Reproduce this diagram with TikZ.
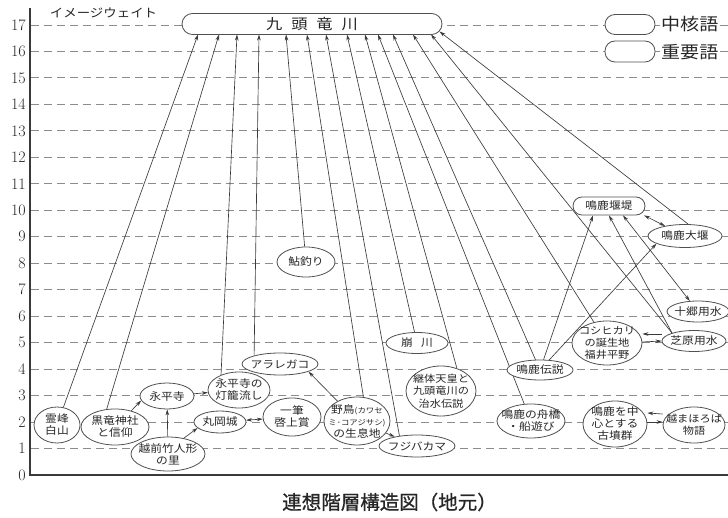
\documentclass[tikz,border=0pt]{standalone}
\usepackage{fontspec}
\newfontfamily\cjk[FakeStretch=1.12]{Noto Sans CJK JP}
\newfontfamily\cjkg[FakeBold=0.8]{Noto Sans CJK JP}
\usetikzlibrary{shapes.geometric,arrows.meta}
\pgfdeclarelayer{bg}
\pgfsetlayers{bg,main}
\definecolor{ln}{HTML}{3A3A3A}
\definecolor{gridc}{HTML}{8C8C8C}
\definecolor{bd}{HTML}{505050}
\definecolor{tx}{HTML}{262626}
\tikzset{
  el/.style={ellipse, draw=bd, line width=0.8pt, fill=white, inner sep=0pt},
  pill/.style={rectangle, rounded corners=#1, draw=bd, line width=0.8pt, fill=white, inner sep=0pt, align=center, text=tx},
  pill/.default=9pt,
  txt/.style={align=center, inner sep=0pt, text=tx},
  arr/.style={draw=ln, line width=0.65pt, -{Stealth[length=6pt,width=3.6pt]}},
  arrb/.style={draw=ln, line width=0.65pt, {Stealth[length=6pt,width=3.6pt]}-{Stealth[length=6pt,width=3.6pt]}},
  gridl/.style={draw=gridc, line width=0.9pt, dash pattern=on 8pt off 5pt},
  axisl/.style={draw=ln, line width=1.1pt},
  lbl/.style={text=tx, inner sep=1pt},
}
% name, x, y, w, h, text
\newcommand\mkel[7][]{%
  \node[el, minimum width=#5pt, minimum height=#6pt] (#2) at (#3,#4) {};
  \node[txt,#1] (#2-t) at (#2.center) {#7};}
\begin{document}
\begin{tikzpicture}[x=1pt,y=-1pt,font=\cjk\fontsize{10.5}{12}\selectfont]
\useasboundingbox (0,0) rectangle (728,518);

% top node and legend
\node[pill=10.5pt, minimum width=260pt, minimum height=21pt, font=\cjk\fontsize{14.5}{15}\selectfont] (top) at (312,24) {九\hspace{9pt}頭\hspace{9pt}竜\hspace{9pt}川};
\node[pill=10pt, minimum width=50pt, minimum height=20pt] (lg1) at (630,24.5) {};
\node[pill=10pt, minimum width=50pt, minimum height=21pt] (lg2) at (630,51.5) {};
\node[lbl, fill=white, anchor=west, font=\cjk\fontsize{17}{17}\selectfont] (lt1) at (660,24.5) {中核語};
\node[lbl, fill=white, anchor=west, font=\cjk\fontsize{17}{17}\selectfont] (lt2) at (660,52) {重要語};
\node[lbl, font=\cjk\fontsize{12}{12}\selectfont] (ylab) at (103.5,13) {イメージウェイト};

% tick labels
\foreach \l in {0,...,17}{
  \node[anchor=east, font=\rmfamily\fontsize{16}{16}\selectfont, text=tx, inner sep=0pt] (tk\l) at (26,{475-\l*26.47}) {\l};
}

% word nodes
\mkel{hakusan}{57}{425}{46}{36}{霊峰\\白山}
\mkel{kuro}{115}{427}{68}{36}{黒竜神社\\と信仰}
\mkel{eihei}{167}{396}{54}{26}{永平寺}
\mkel{echizen}{168}{454}{74}{34}{越前竹人形\\の里}
\mkel{maruoka}{220}{422}{52}{22}{丸岡城}
\mkel{touro}{239}{390}{62}{36}{永平寺の\\灯籠流し}
\mkel{arare}{280}{364}{76}{22}{アラレガコ}
\mkel{ippitsu}{292}{417}{58}{38}{一筆\\啓上賞}
\mkel{yacho}{357}{421}{66}{48}{野鳥{\fontsize{7.5}{8}\selectfont(カワセ}\\{\fontsize{7.5}{8}\selectfont ミ･コアジサシ)}\\の生息地}
\mkel{fuji}{417}{446}{76}{22}{フジバカマ}
\mkel{kuzure}{417}{343}{62}{21}{崩\hspace{8pt}川}
\mkel[font=\cjk\fontsize{10}{12.5}\selectfont]{keitai}{441}{391}{70}{50}{継体天皇と\\九頭竜川の\\治水伝説}
\mkel{ayu}{306}{262}{58}{30}{鮎釣り}
\mkel{funa}{531}{421}{68}{34}{鳴鹿の舟橋\\・船遊び}
\mkel{kofun}{615}{424}{64}{46}{鳴鹿を中\\心とする\\古墳群}
\mkel[font=\cjk\fontsize{10}{12}\selectfont]{mahoro}{694}{425}{62}{36}{越まほろば\\物語}
\mkel{densetsu}{540}{370}{66}{20}{鳴鹿伝説}
\mkel[font=\cjk\fontsize{10}{12}\selectfont]{koshi}{607}{343}{70}{44}{コシヒカリ\\の誕生地\\福井平野}
\mkel{shiba}{694}{341}{64}{21}{芝原用水}
\mkel{jugo}{698}{311.5}{62}{21}{十郷用水}
\node[pill=9pt, minimum width=72pt, minimum height=18pt] (entei) at (609,206) {鳴鹿堰堤};
\mkel{oozeki}{685}{236}{74}{23}{鳴鹿大堰}

% arrow targets on the core word
\coordinate (k1) at (198,34.5);
\coordinate (k2) at (219,34.5);
\coordinate (k3) at (237,34.5);
\coordinate (k4) at (259,34.5);
\coordinate (k5) at (286,34.5);
\coordinate (k6) at (307,34.5);
\coordinate (k7) at (326,34.5);
\coordinate (k8) at (347,34.5);
\coordinate (k9) at (365,34.5);
\coordinate (k10) at (378,34.5);
\coordinate (k11) at (393,34.5);
\coordinate (k12) at (413,34.5);
\coordinate (k13) at (431,34.4);
\coordinate (k14) at (439.5,31.5);

\begin{pgfonlayer}{bg}
\foreach \l in {1,...,17}{
  \draw[gridl] (31,{475-\l*26.47}) -- (728,{475-\l*26.47});
}
\draw[axisl] (30,8) -- (30,475) -- (728,475);

\draw[arr] (hakusan) -- (k1);
\draw[arr] (kuro.115) -- (k2);
\draw[arr] (touro.140) -- (k3);
\draw[arr] (arare.162) -- (k4);
\draw[arr] (ayu) -- (k5);
\draw[arr] (yacho.75) -- (k6);
\draw[arr] (fuji.150) -- (k7);
\draw[arr] (kuzure) -- (k8);
\draw[arr] (keitai.55) -- (k9);
\draw[arr] (funa) -- (k10);
\draw[arr] (densetsu) -- (k11);
\draw[arr] (koshi) -- (k12);
\draw[arr] (shiba.160) -- (k13);
\draw[arr] (oozeki.75) -- (k14);

\draw[arr] (kuro.45) -- (eihei.190);
\draw[arr] (echizen) -- (eihei);
\draw[arr] (echizen.45) -- (maruoka.195);
\draw[arr] (eihei) -- (touro);
\draw[arrb] (maruoka) -- (ippitsu);
\draw[arr] (yacho) -- (arare.-15);
\draw[arr] (yacho) -- (fuji);

\draw[arr] ([yshift=7pt]shiba.west) -- ([yshift=9pt]koshi.east);
\draw[arr] ([yshift=1pt]koshi.east) -- (shiba.west);
\draw[arr] ([yshift=11pt]mahoro.west) -- ([yshift=11pt]kofun.east);
\draw[arr] ([yshift=2pt]kofun.east) -- ([yshift=3pt]mahoro.west);

\draw[arrb] (entei.-15) -- (oozeki);
\draw[arrb] ([xshift=14pt]entei.south) -- (jugo);
\draw[arr] (shiba.160) -- (entei.south);
\draw[arr] (densetsu) -- ([xshift=-16pt]entei.south);
\draw[arr] (densetsu) -- (oozeki.195);
\end{pgfonlayer}

\node[font=\cjkg\fontsize{19.5}{20}\selectfont, text=tx, inner sep=0pt] (cap) at (389.5,502) {連想階層構造図（地元）};
\end{tikzpicture}
\end{document}
